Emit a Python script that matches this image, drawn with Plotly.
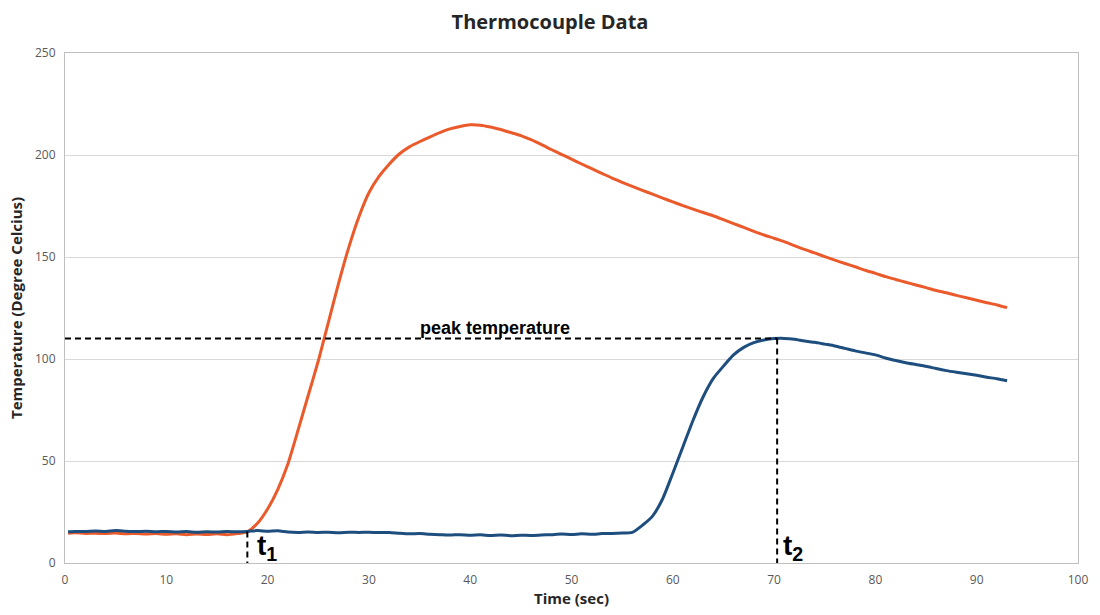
import plotly.graph_objects as go

time_s = [0.3] + list(range(1, 94))

orange_temp = [
    14.6, 14.8, 14.5, 14.6, 14.4, 14.7, 14.3, 14.5, 14.2, 14.4,
    14.1, 14.3, 13.9, 14.2, 14.0, 14.3, 13.9, 14.4, 15.3, 19.5,
    26.5, 36.0, 48.5, 65.0, 82.0, 99.0, 118.0, 137.0, 154.5, 169.5,
    181.5, 189.5, 195.5, 200.5, 204.0, 206.5, 208.8, 211.0, 212.8, 214.0,
    214.8, 214.6, 213.7, 212.5, 211.0, 209.5, 207.5, 205.2, 202.7, 200.3,
    198.0, 195.6, 193.3, 191.0, 188.7, 186.6, 184.6, 182.7, 180.8, 178.9,
    177.0, 175.2, 173.5, 171.8, 170.2, 168.3, 166.4, 164.5, 162.6, 160.8,
    159.2, 157.5, 155.6, 153.7, 152.0, 150.2, 148.5, 146.8, 145.2, 143.5,
    142.0, 140.4, 139.0, 137.6, 136.3, 135.0, 133.6, 132.5, 131.2, 130.0,
    128.8, 127.6, 126.5, 125.2,
]

blue_temp = [
    15.3, 15.5, 15.4, 15.7, 15.5, 15.9, 15.6, 15.4, 15.6, 15.3,
    15.5, 15.2, 15.4, 15.1, 15.3, 15.2, 15.4, 15.3, 15.5, 15.9,
    15.6, 15.8, 15.2, 15.0, 15.2, 15.0, 15.1, 14.8, 15.1, 15.0,
    15.1, 14.9, 15.0, 14.6, 14.3, 14.4, 14.1, 13.9, 13.7, 13.9,
    13.6, 13.8, 13.5, 13.7, 13.4, 13.6, 13.5, 13.7, 13.9, 14.2,
    14.0, 14.3, 14.1, 14.4, 14.5, 14.7, 15.0, 18.5, 23.0, 31.5,
    44.0, 57.0, 70.0, 81.5, 90.5, 96.5, 102.0, 105.7, 108.0, 109.3,
    110.0, 110.1, 109.7, 108.8, 108.2, 107.3, 106.4, 105.2, 104.0, 103.0,
    102.0, 100.5, 99.3, 98.2, 97.3, 96.4, 95.3, 94.3, 93.5, 92.8,
    92.0, 91.1, 90.3, 89.3,
]

t1 = 18.0
t2 = 70.3
peak_temp = 110.0
t1_temp = 15.5

x_ticks = [0, 10, 20, 30, 40, 50, 60, 70, 80, 90, 100]
y_ticks = [0, 50, 100, 150, 200, 250]

fig = go.Figure()

fig.add_trace(go.Scatter(x=time_s, y=orange_temp, mode="lines",
                         line=dict(color="#EA5A2A", width=3, shape="spline", smoothing=0.6),
                         showlegend=False))
fig.add_trace(go.Scatter(x=time_s, y=blue_temp, mode="lines",
                         line=dict(color="#1D4E7E", width=3, shape="spline", smoothing=0.6),
                         showlegend=False))

dash_style = dict(color="black", width=2, dash="6px,4px")
# peak temperature horizontal line
fig.add_trace(go.Scatter(x=[0, t2], y=[peak_temp, peak_temp], mode="lines",
                         line=dash_style, showlegend=False, hoverinfo="skip"))
# t2 vertical line
fig.add_trace(go.Scatter(x=[t2, t2], y=[peak_temp, 0], mode="lines",
                         line=dash_style, showlegend=False, hoverinfo="skip"))
# t1 vertical line
fig.add_trace(go.Scatter(x=[t1, t1], y=[t1_temp, 0], mode="lines",
                         line=dash_style, showlegend=False, hoverinfo="skip"))

fig.add_annotation(x=42.4, y=peak_temp, xref="x", yref="y", text="<b>peak temperature</b>",
                   showarrow=False, yanchor="bottom", yshift=-1,
                   font=dict(family="Liberation Sans, Arial", size=18, color="black"))
fig.add_annotation(x=t1 + 0.8, y=0, xref="x", yref="y", text="<b>t<sub>1</sub></b>",
                   showarrow=False, xanchor="left", yanchor="bottom", yshift=-4,
                   font=dict(family="Liberation Sans, Arial", size=28, color="black"))
fig.add_annotation(x=t2 + 0.4, y=0, xref="x", yref="y", text="<b>t<sub>2</sub></b>",
                   showarrow=False, xanchor="left", yanchor="bottom", yshift=-4,
                   font=dict(family="Liberation Sans, Arial", size=28, color="black"))

axis_font = dict(family="Open Sans, Arial", size=12, color="#595959")
title_font = dict(family="Open Sans, Arial", size=15, color="#262626")

fig.update_layout(
    width=1100, height=615,
    margin=dict(l=65, r=17, t=53, b=51),
    paper_bgcolor="white", plot_bgcolor="white",
    title=dict(text="<b>Thermocouple Data</b>", x=0.5, xanchor="center",
               y=1 - 22 / 615, yanchor="middle",
               font=dict(family="Open Sans, Arial", size=20, color="#262626")),
    xaxis=dict(range=[0, 100], tickvals=x_ticks, ticktext=[str(v) for v in x_ticks],
               showgrid=False, zeroline=False, showline=True, linecolor="#bfbfbf",
               linewidth=1, mirror=True, ticks="", tickfont=axis_font,
               ticklabelstandoff=6,
               title=dict(text="<b>Time (sec)</b>", font=title_font, standoff=4)),
    yaxis=dict(range=[0, 250], tickvals=y_ticks, ticktext=[str(v) for v in y_ticks],
               showgrid=True, gridcolor="#d9d9d9", gridwidth=1, zeroline=False,
               showline=True, linecolor="#bfbfbf", linewidth=1, mirror=True,
               ticks="", tickfont=axis_font, ticklabelstandoff=6,
               title=dict(text="<b>Temperature (Degree Celcius)</b>", font=title_font,
                          standoff=8)),
)

fig.write_html("out.html")
